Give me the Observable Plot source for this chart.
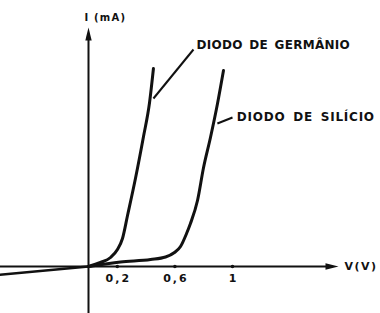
<!DOCTYPE html>
<html>
<head>
<meta charset="utf-8">
<script src="https://cdn.jsdelivr.net/npm/d3@7"></script>
<script src="https://cdn.jsdelivr.net/npm/@observablehq/plot@0.6"></script>
<style>
  html, body { margin: 0; padding: 0; background: #fff; }
  svg { display: block; }
</style>
</head>
<body>
<div id="chart"></div>
<script>
// Germanium diode forward curve (V in volts, I in mA, arbitrary mA units)
const geV = [0, 0.083, 0.153, 0.201, 0.236, 0.271, 0.326, 0.382, 0.424, 0.451];
const geI = [0, 0.2, 0.45, 0.85, 1.4, 2.55, 4.4, 6.5, 8.2, 9.9];
// Silicon diode forward curve
const siV = [0, 0.222, 0.431, 0.535, 0.597, 0.639, 0.681, 0.708, 0.757, 0.799, 0.847, 0.896, 0.9375];
const siI = [0, 0.225, 0.35, 0.475, 0.7, 1.0, 1.65, 2.15, 3.3, 4.95, 6.45, 8.15, 9.8];
// Reverse-bias part (shared)
const revV = [-0.62, 0];
const revI = [-0.42, 0];
// Axis ticks
const tickValues = [0.2, 0.6, 1];
const tickLabels = ["0,2", "0,6", "1"];
// Labels
const geLabel = "DIODO DE GERMÂNIO";
const siLabel = "DIODO DE SILÍCIO";
const geLabelPos = [0.75, 11.05];
const siLabelPos = [1.03, 7.45];
// Leader lines (from curve to label)
const leaderV1 = [0.451, 1.0];
const leaderI1 = [8.4, 7.45];
const leaderV2 = [0.729, 0.895];
const leaderI2 = [10.85, 7.15];
const xAxisLabel = "V(V)";
const yAxisLabel = "I (mA)";
// Axis extents
const xDomain = [-0.6111, 2.0278];
const yDomain = [-2.35, 13.3];
const xAxisEnd = 1.736;
const yAxisEnd = 11.95;

const toPts = (vs, is) => vs.map((v, k) => ({v, i: is[k]}));
const ge = toPts(geV, geI);
const si = toPts(siV, siI);
const rev = toPts(revV, revI);
const ticks = tickValues.map((v, k) => ({v, label: tickLabels[k]}));
const leaders = leaderV1.map((v, k) => ({v1: v, i1: leaderI1[k], v2: leaderV2[k], i2: leaderI2[k]}));

const arrowHead = {
  draw(ctx) {
    const w = 3.2, h = 13;
    ctx.moveTo(0, 0);
    ctx.lineTo(w, h);
    ctx.lineTo(-w, h);
    ctx.closePath();
  }
};

const ink = "#111";
const font = "DejaVu Sans";

const chart = Plot.plot({
  width: 380,
  height: 313,
  margin: 0,
  x: {domain: xDomain, axis: null},
  y: {domain: yDomain, axis: null},
  style: {background: "#fff", fontFamily: font},
  marks: [
    // axes
    Plot.ruleY([0], {x1: xDomain[0], x2: xAxisEnd - 0.05, stroke: ink, strokeWidth: 1.8}),
    Plot.ruleX([0], {y1: yDomain[0], y2: yAxisEnd - 0.4, stroke: ink, strokeWidth: 2}),
    Plot.dot([{v: 0, i: yAxisEnd}], {x: "v", y: "i", symbol: arrowHead, fill: ink, stroke: "none"}),
    Plot.dot([{v: xAxisEnd, i: 0}], {x: "v", y: "i", symbol: arrowHead, fill: ink, stroke: "none", rotate: 90}),
    // ticks
    Plot.dot(ticks, {x: "v", y: () => 0, r: 1.8, fill: ink, stroke: "none"}),
    Plot.text(ticks, {x: "v", y: () => 0, text: "label", dy: 12, dx: 1, fontSize: 11, fontWeight: "bold", fill: ink}),
    // curves
    Plot.line(rev, {x: "v", y: "i", stroke: ink, strokeWidth: 2.4}),
    Plot.line(ge, {x: "v", y: "i", stroke: ink, strokeWidth: 3, curve: "monotone-x"}),
    Plot.line(si, {x: "v", y: "i", stroke: ink, strokeWidth: 3, curve: "monotone-x"}),
    // leaders
    Plot.link(leaders, {x1: "v1", y1: "i1", x2: "v2", y2: "i2", stroke: ink, strokeWidth: 2}),
    // labels
    Plot.text([geLabel], {x: () => geLabelPos[0], y: () => geLabelPos[1], text: d => d, textAnchor: "start", fontSize: 12, fontWeight: "bold", fill: ink}),
    Plot.text([siLabel], {x: () => siLabelPos[0], y: () => siLabelPos[1], text: d => d, textAnchor: "start", fontSize: 12, fontWeight: "bold", fill: ink}),
    Plot.text([xAxisLabel], {x: () => 1.778, y: () => 0, text: d => d, textAnchor: "start", fontSize: 11, fontWeight: "bold", fill: ink}),
    Plot.text([yAxisLabel], {x: () => -0.028, y: () => 12.45, text: d => d, textAnchor: "start", fontSize: 10, fontWeight: "bold", fill: ink})
  ]
});
const spacing = new Map([
  [geLabel, "letter-spacing:0.3px;word-spacing:2px"],
  [siLabel, "letter-spacing:0.75px;word-spacing:3px"],
  [xAxisLabel, "letter-spacing:1.5px"],
  [yAxisLabel, "letter-spacing:1.2px"],
  ...tickLabels.map(t => [t, "letter-spacing:2px"])
]);
d3.select(chart).selectAll("text").each(function() {
  const s = spacing.get(this.textContent);
  if (s) this.setAttribute("style", s);
});
document.getElementById("chart").appendChild(chart);
</script>
</body>
</html>
